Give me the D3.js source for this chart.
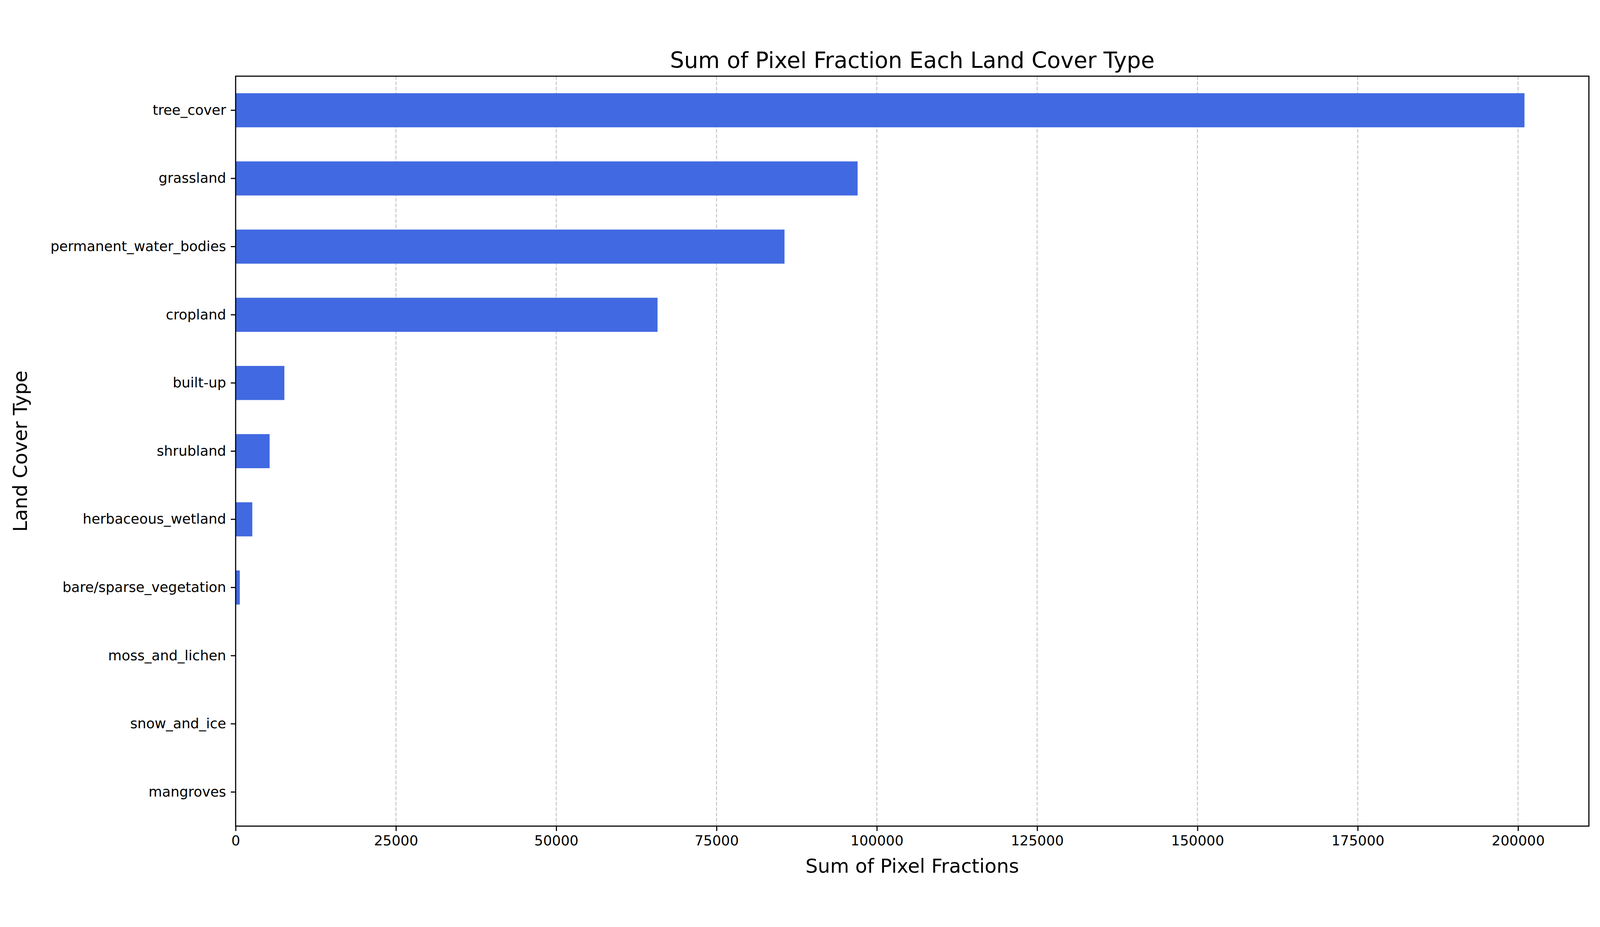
<!DOCTYPE html>
<html><head><meta charset="utf-8">
<script src="https://cdn.jsdelivr.net/npm/d3@7"></script>
<style>html,body{margin:0;background:#fff;overflow:hidden}svg{display:block;width:100vw;height:100vh}text{font-family:"DejaVu Sans",sans-serif}</style>
</head><body><div id="chart"></div>
<script>
const categories = ["tree_cover","grassland","permanent_water_bodies","cropland","built-up","shrubland","herbaceous_wetland","bare/sparse_vegetation","moss_and_lichen","snow_and_ice","mangroves"]
const values = [201000, 97000, 85600, 65800, 7600, 5300, 2600, 650, 40, 10, 2]
const xTicks = [0, 25000, 50000, 75000, 100000, 125000, 150000, 175000, 200000]

const W = 4468, H = 2374
const margin = {top: 105, right: 31, bottom: 174, left: 658}
const width = W - margin.left - margin.right
const height = H - margin.top - margin.bottom

const svg = d3.select("#chart").append("svg")
    .attr("viewBox", `0 0 ${W} ${H}`)
    .attr("preserveAspectRatio", "xMidYMid meet")
const g = svg.append("g")
    .attr("transform", `translate(${margin.left},${margin.top})`)

const xScale = d3.scaleLinear()
    .domain([0, d3.max(values) * 1.05])
    .range([0, width])

const yScale = d3.scaleBand()
    .domain(categories)
    .range([0, height])
    .paddingInner(0.5).paddingOuter(0.25)

// grid
g.append("g").selectAll("line").data(xTicks).join("line")
    .attr("x1", d => xScale(d)).attr("x2", d => xScale(d))
    .attr("y1", 0).attr("y2", height)
    .attr("stroke", "#b0b0b0").attr("stroke-opacity", 0.7)
    .attr("stroke-width", 2.8).attr("stroke-dasharray", "10.3,4.5")

g.selectAll(".bar").data(categories).join("rect")
    .attr("class", "bar")
    .attr("x", 0)
    .attr("y", d => yScale(d))
    .attr("height", yScale.bandwidth())
    .attr("width", (d, i) => xScale(values[i]))
    .attr("fill", "#4169e1")

const xAxis = d3.axisBottom(xScale).tickValues(xTicks).tickFormat(d3.format("d"))
    .tickSize(13.6).tickPadding(13).tickSizeOuter(0)
const yAxis = d3.axisLeft(yScale).tickSize(13.6).tickPadding(13).tickSizeOuter(0)

const xg = g.append("g").attr("transform", `translate(0,${height})`).call(xAxis)
const yg = g.append("g").call(yAxis)
for (const ag of [xg, yg]) {
    ag.select(".domain").remove()
    ag.selectAll("line").attr("stroke", "#000").attr("stroke-width", 3.1)
    ag.selectAll("text").attr("font-size", 38.8).attr("fill", "#000")
        .attr("font-family", "DejaVu Sans")
}

g.append("rect").attr("width", width).attr("height", height)
    .attr("fill", "none").attr("stroke", "#000").attr("stroke-width", 3.1)

svg.append("text")
    .attr("x", margin.left + width / 2).attr("y", 82)
    .attr("text-anchor", "middle").attr("font-size", 62)
    .text("Sum of Pixel Fraction Each Land Cover Type")

svg.append("text")
    .attr("x", margin.left + width / 2).attr("y", 2330)
    .attr("text-anchor", "middle").attr("font-size", 54.3)
    .text("Sum of Pixel Fractions")

svg.append("text")
    .attr("transform", `translate(75,${margin.top + height / 2}) rotate(-90)`)
    .attr("text-anchor", "middle").attr("font-size", 54.3)
    .text("Land Cover Type")
</script></body></html>
